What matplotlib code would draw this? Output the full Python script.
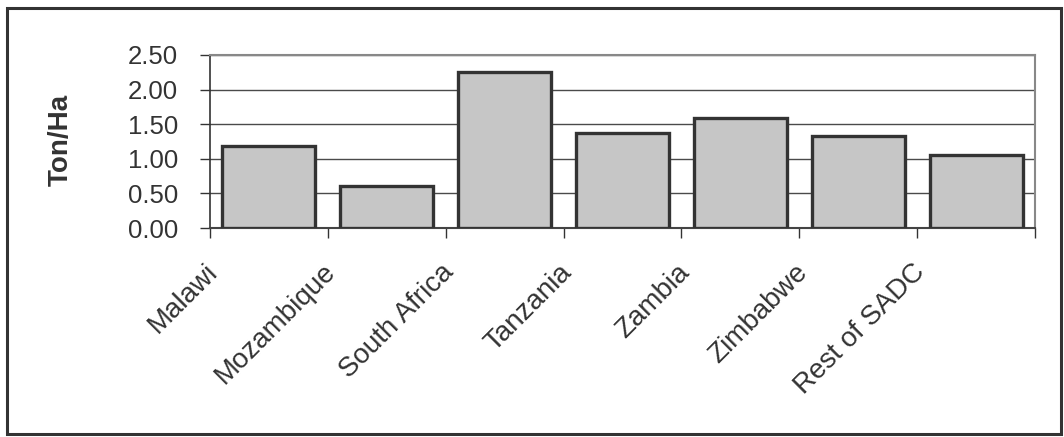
import matplotlib
matplotlib.use("Agg")
import matplotlib.pyplot as plt
import matplotlib.transforms as mtransforms
from matplotlib.patches import Rectangle
import numpy as np

plt.rcParams["font.family"] = ["Liberation Sans", "DejaVu Sans"]

countries = ["Malawi", "Mozambique", "South Africa", "Tanzania",
             "Zambia", "Zimbabwe", "Rest of SADC"]
yields = [1.18, 0.61, 2.26, 1.37, 1.59, 1.33, 1.06]
y_ticks = [0.0, 0.5, 1.0, 1.5, 2.0, 2.5]

W, H = 1064, 437
fig = plt.figure(figsize=(W / 100, H / 100), dpi=100)
ax = fig.add_axes([210 / W, 1 - 228 / H, 825 / W, 173 / H])

x = np.arange(len(countries))
ax.bar(x, yields, width=0.79, color="#c6c6c6", edgecolor="#333333",
       linewidth=2.4, zorder=3)

ax.set_xlim(-0.5, len(countries) - 0.5)
ax.set_ylim(0, 2.5)
ax.set_yticks(y_ticks)
ax.set_yticklabels([f"{v:.2f}" for v in y_ticks], fontsize=18.5, color="#333333")
ax.yaxis.grid(True, color="#4a4a4a", linewidth=1.0, zorder=0)
ax.tick_params(axis="y", direction="out", length=7, width=1.0,
               color="#333333", pad=16)

# category boundary ticks below the axis, labels at the centres
ax.set_xticks(np.arange(len(countries) + 1) - 0.5, minor=True)
ax.tick_params(axis="x", which="minor", direction="out", length=7,
               width=1.0, color="#333333")
ax.set_xticks(x)
ax.set_xticklabels(countries, fontsize=20, color="#333333")
ax.tick_params(axis="x", which="major", length=0, pad=0)
offset = mtransforms.ScaledTranslation(-0.64, -0.31, fig.dpi_scale_trans)
for lab in ax.get_xticklabels():
    lab.set_rotation(45)
    lab.set_rotation_mode("anchor")
    lab.set_ha("right")
    lab.set_va("top")
    lab.set_transform(lab.get_transform() + offset)

for side in ["top", "right"]:
    ax.spines[side].set_color("#888888")
    ax.spines[side].set_linewidth(1.5)
ax.spines["left"].set_color("#333333")
ax.spines["left"].set_linewidth(1.2)
ax.spines["bottom"].set_color("#444444")
ax.spines["bottom"].set_linewidth(1.5)

ax.set_ylabel("Ton/Ha", fontsize=20, fontweight="bold", color="#333333")
ax.yaxis.set_label_coords((74 - 210) / 825, (228 - 140) / 173)

fig.patches.append(Rectangle((7 / W, 1 - 434 / H), (1061 - 7) / W, (434 - 8) / H,
                             transform=fig.transFigure, fill=False,
                             edgecolor="#333333", linewidth=2.2))

fig.savefig("out.png", dpi=100, facecolor="white")
